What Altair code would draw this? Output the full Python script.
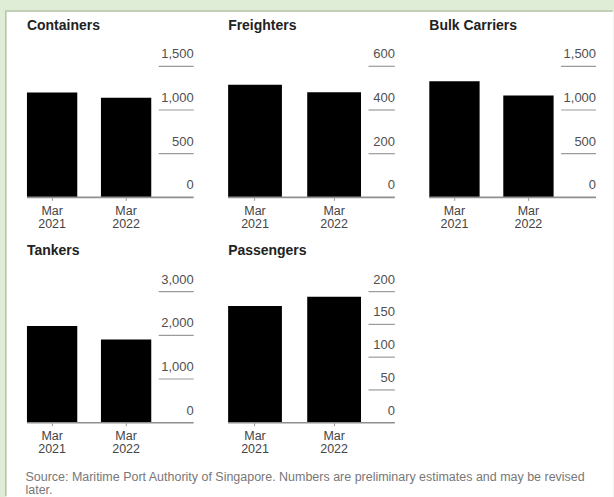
import altair as alt
import pandas as pd

# Vessel arrivals by type, March 2021 vs March 2022
periods = ["Mar 2021", "Mar 2022"]
titles = ["Containers", "Freighters", "Bulk Carriers", "Tankers", "Passengers"]
containers = [1200, 1140]
freighters = [515, 481]
bulk_carriers = [1329, 1165]
tankers = [2216, 1903]
passengers = [178, 192]

containers_ticks = [0, 500, 1000, 1500]
freighters_ticks = [0, 200, 400, 600]
bulk_ticks = [0, 500, 1000, 1500]
tankers_ticks = [0, 1000, 2000, 3000]
passengers_ticks = [0, 50, 100, 150, 200]

source_lines = [
    "Source: Maritime Port Authority of Singapore. Numbers are preliminary estimates and may be revised",
    "later.",
]

FONT = "Liberation Sans"
PAGE_W, PAGE_H = 614, 497
PANEL_W = 167
PANEL_H = 131.3
COL_GAP = 34.5
ROW_GAP = 93.7
ORIGIN_X, ORIGIN_Y = 26.5, 65.7          # top-left of the first panel's plot area
ROW2_Y = ORIGIN_Y + PANEL_H + ROW_GAP    # top of the second row

GREEN = "#e0edd6"
BORDER = "#b7c5a9"


def one_row(**kw):
    return pd.DataFrame({k: [v] for k, v in kw.items()})


def panel(title, values, ticks, extras=()):
    top = ticks[-1]
    yscale = alt.Scale(domain=[0, top], nice=False)
    label_w = 13.5 + 4.3 * len(f"{top:,}")
    bars_w = PANEL_W - label_w - 7.5

    bars_df = pd.DataFrame({"period": periods, "value": values})
    tick_df = pd.DataFrame({"v": ticks})

    bars = alt.Chart(bars_df).mark_bar(color="#000000").encode(
        x=alt.X(
            "period:N",
            sort=periods,
            title=None,
            scale=alt.Scale(range=[0, bars_w], paddingInner=0.32, paddingOuter=0),
            axis=alt.Axis(
                domain=False,
                ticks=True,
                tickSize=3,
                tickColor="#999999",
                labelAngle=0,
                labelFont=FONT,
                labelFontSize=12.5,
                labelColor="#444444",
                labelExpr="split(datum.label, ' ')",
                labelLineHeight=13,
                labelPadding=4.3,
                labelOverlap=False,
                zindex=2,
            ),
        ),
        y=alt.Y("value:Q", scale=yscale, axis=None),
    )

    segments = (
        alt.Chart(tick_df)
        .transform_filter("datum.v > 0")
        .mark_rule(color="#9a9a9a", strokeWidth=1.2)
        .encode(
            y=alt.Y("v:Q", scale=yscale, axis=None),
            x=alt.value(PANEL_W - label_w),
            x2=alt.value(PANEL_W),
        )
    )

    tick_labels = alt.Chart(tick_df).mark_text(
        align="right", baseline="alphabetic", dy=-8,
        font=FONT, fontSize=13, color="#505050",
    ).encode(
        y=alt.Y("v:Q", scale=yscale, axis=None),
        x=alt.value(PANEL_W),
        text=alt.Text("v:Q", format=","),
    )

    baseline = alt.Chart(pd.DataFrame({"v": [0]})).mark_rule(
        color="#8f8f8f", strokeWidth=1.6
    ).encode(
        y=alt.Y("v:Q", scale=yscale, axis=None),
        x=alt.value(0),
        x2=alt.value(PANEL_W),
    )

    heading = alt.Chart(one_row(t=title)).mark_text(
        align="left", baseline="alphabetic",
        font=FONT, fontSize=14, fontWeight="bold", color="#222222",
    ).encode(x=alt.value(0), y=alt.value(-36.7), text="t:N")

    layers = list(extras) + [bars, segments, tick_labels, baseline, heading]
    return alt.layer(*layers).properties(width=PANEL_W, height=PANEL_H)


# Page frame: green surround with a white card, drawn relative to the first panel
dot = one_row(k=0)
frame = [
    alt.Chart(dot).mark_rect(color=GREEN).encode(
        x=alt.value(-ORIGIN_X), x2=alt.value(PAGE_W - ORIGIN_X),
        y=alt.value(-ORIGIN_Y), y2=alt.value(PAGE_H - ORIGIN_Y),
    ),
    alt.Chart(dot).mark_rect(color="#ffffff").encode(
        x=alt.value(6 - ORIGIN_X), x2=alt.value(PAGE_W - ORIGIN_X),
        y=alt.value(11 - ORIGIN_Y), y2=alt.value(PAGE_H - ORIGIN_Y),
    ),
    alt.Chart(dot).mark_rule(color=BORDER, strokeWidth=1.5).encode(
        x=alt.value(5 - ORIGIN_X), x2=alt.value(PAGE_W - 1 - ORIGIN_X),
        y=alt.value(10.25 - ORIGIN_Y),
    ),
    alt.Chart(dot).mark_rule(color=BORDER, strokeWidth=1.5).encode(
        x=alt.value(5.25 - ORIGIN_X),
        y=alt.value(10 - ORIGIN_Y), y2=alt.value(PAGE_H - 1 - ORIGIN_Y),
    ),
]

source = alt.Chart(one_row(t="\n".join(source_lines))).mark_text(
    align="left", baseline="alphabetic", lineBreak="\n", lineHeight=13,
    font=FONT, fontSize=12.5, color="#777777",
).encode(x=alt.value(25 - ORIGIN_X), y=alt.value(480 - ROW2_Y), text="t:N")

panels = [
    panel(titles[0], containers, containers_ticks, extras=frame),
    panel(titles[1], freighters, freighters_ticks),
    panel(titles[2], bulk_carriers, bulk_ticks),
    panel(titles[3], tankers, tankers_ticks, extras=[source]),
    panel(titles[4], passengers, passengers_ticks),
]

chart = (
    alt.concat(
        *panels,
        columns=3,
        spacing={"row": ROW_GAP, "column": COL_GAP},
        bounds="flush",
    )
    .properties(
        padding=0,
        autosize=alt.AutoSizeParams(type="pad"),
        background=GREEN,
    )
    .configure_view(stroke=None)
)

chart.save("out.html", embed_options={"renderer": "svg", "actions": False})
